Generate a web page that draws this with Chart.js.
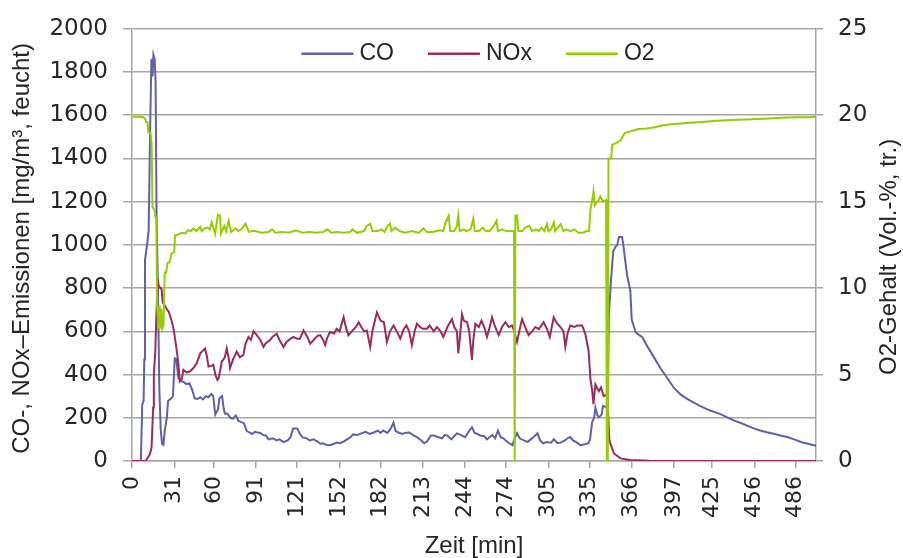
<!DOCTYPE html>
<html>
<head>
<meta charset="utf-8">
<script src="https://cdn.jsdelivr.net/npm/chart.js@4.4.1/dist/chart.umd.min.js"></script>
<style>
  html, body { margin: 0; padding: 0; background: #ffffff; }
  #wrap { width: 903px; height: 558px; position: relative; }
</style>
</head>
<body>
<div id="wrap"><canvas id="c" width="903" height="558"></canvas></div>
<script>
// ---- data ----
const seriesNames = ['CO', 'NOx', 'O2'];
const xTickValues = [0, 31, 60, 91, 121, 152, 182, 213, 244, 274, 305, 335, 366, 397, 425, 456, 486];
const leftTickStep = 200;
const rightTickStep = 5;
const leftTitle = 'CO-, NOx–Emissionen [mg/m³, feucht)';
const rightTitle = 'O2-Gehalt (Vol.-%, tr.)';
const bottomTitle = 'Zeit [min]';

const coTime = [0, 6.5, 7.5, 8.5, 9, 9.5, 11, 12.2, 13.2, 14.2, 15, 15.7, 16.6, 17.3, 18, 19, 20, 21, 22, 23, 24, 25.5, 26.4, 28.8, 30, 31.3, 32.5, 34, 36, 38, 40, 42, 44, 46, 48, 50, 52, 54, 56, 58, 59.5, 61, 63, 64, 66, 67, 68, 70, 72, 74, 76, 78, 80, 82, 84, 86, 88, 90, 92, 94, 96, 98, 100, 103, 106, 108, 111, 114, 116, 118, 121, 123, 125, 128, 130, 133, 136, 138, 140, 142, 145, 148, 150, 152, 155, 157.5, 160, 162, 165, 168, 171, 174, 177, 180, 182, 184, 187, 189.5, 191.5, 193, 195, 198, 200, 203, 206, 209, 212, 214, 216, 219, 221, 224, 227, 229, 231, 234, 236, 238, 241, 244, 247, 249, 251, 253, 255, 258, 260, 262, 264, 266, 268, 270, 272, 275, 277, 278.6, 280, 282, 284, 287, 289.6, 292, 294, 297, 299, 301, 304, 307, 309, 311.6, 314, 317, 319, 321, 323, 326, 328.4, 330, 332, 334.3, 335.5, 337, 338.5, 339.4, 341, 342, 344, 345, 347, 348.5, 349.3, 351, 352.5, 354, 355.5, 356.6, 359, 360, 362.6, 365, 366, 368.8, 371, 373.7, 377, 382, 387, 392, 397, 401.8, 406, 411.5, 416, 421, 426, 431, 436, 441, 446, 450.5, 455, 460, 465, 470, 475, 480, 485, 490, 495, 499.5, 501];
const coValues = [0, 0, 260, 280, 470, 930, 1000, 1066, 1500, 1860, 1780, 1880, 1860, 1750, 1130, 800, 337, 150, 80, 75, 141, 200, 278, 290, 300, 475, 470, 384, 370, 365, 355, 360, 330, 290, 287, 295, 285, 300, 295, 310, 300, 215, 240, 290, 300, 250, 220, 219, 200, 196, 210, 185, 180, 175, 140, 132, 125, 135, 132, 130, 120, 118, 100, 105, 95, 100, 87, 95, 109, 150, 150, 125, 109, 105, 95, 100, 90, 80, 82, 75, 73, 80, 85, 82, 90, 100, 110, 123, 120, 128, 135, 125, 132, 140, 130, 141, 130, 150, 178, 140, 132, 125, 130, 132, 120, 109, 95, 82, 90, 118, 118, 111, 105, 120, 118, 100, 115, 128, 120, 110, 140, 156, 130, 125, 118, 115, 100, 111, 120, 105, 141, 110, 105, 88, 80, 73, 100, 128, 105, 95, 88, 100, 110, 128, 95, 82, 88, 85, 100, 82, 85, 95, 105, 111, 95, 85, 73, 75, 78, 82, 100, 179, 200, 247, 210, 202, 215, 255, 250, 255, 680, 850, 970, 990, 1000, 1037, 1037, 992, 862, 788, 657, 597, 585, 574, 536, 483, 430, 384, 338, 308, 290, 270, 255, 240, 228, 217, 202, 187, 176, 164, 152, 141, 133, 126, 118, 111, 100, 88, 80, 73, 70];

const noxTime = [0, 10, 11, 13, 14.3, 15.5, 16, 17, 18, 18.9, 19.5, 21.7, 22.5, 24, 25.4, 27, 29, 30.5, 31.5, 33, 34, 35, 36.5, 37.6, 40, 42.5, 45, 47.4, 50, 53.5, 55, 56, 58, 59.6, 61, 62.5, 63.5, 65.8, 68, 69.4, 71, 71.8, 74, 76.7, 79, 81.6, 83, 85.3, 87, 89, 91.4, 94, 96.3, 98, 101, 103, 106, 108, 111, 113, 116, 118, 121, 123, 125.6, 128, 130.5, 133, 136, 138, 140, 141.5, 143, 145, 148, 150, 152, 155, 157, 158.5, 161, 164, 166, 168, 170, 172, 174.5, 176, 179.4, 182, 184.5, 186.7, 189, 191.6, 194, 196.5, 199, 201, 203, 205, 207, 208.7, 211, 213, 216, 218, 221, 223.4, 226, 228, 231, 234.4, 236, 238, 239, 240, 241.7, 243, 245.4, 247, 249, 250, 251.5, 254, 256, 258, 260, 262, 263.7, 266, 268.6, 271, 273.5, 276, 278.4, 280, 282, 284, 285.7, 288, 290.5, 293, 295.4, 298, 301.5, 304, 306, 308.9, 311, 313.8, 316, 317.4, 319, 321, 324, 326, 329.7, 332, 334.5, 335.8, 337, 338, 339.4, 341.9, 343.5, 345.5, 347, 348.2, 349.6, 350.4, 353, 357.8, 365, 376, 380, 501];
const noxValues = [0, 0, 10, 30, 60, 247, 400, 500, 700, 840, 811, 794, 733, 720, 703, 690, 650, 610, 566, 500, 446, 369, 380, 422, 410, 415, 430, 452, 498, 521, 480, 437, 440, 445, 400, 375, 384, 460, 480, 521, 470, 430, 470, 506, 480, 491, 540, 574, 560, 600, 582, 560, 528, 545, 559, 575, 589, 560, 528, 550, 565, 574, 566, 566, 604, 580, 543, 560, 580, 582, 560, 536, 570, 597, 590, 612, 600, 665, 610, 582, 600, 620, 642, 620, 600, 604, 528, 600, 688, 650, 642, 551, 600, 627, 600, 566, 610, 627, 600, 536, 600, 635, 620, 612, 612, 627, 600, 620, 600, 574, 620, 657, 620, 600, 498, 560, 680, 650, 642, 600, 468, 560, 635, 620, 650, 620, 574, 620, 665, 620, 582, 620, 642, 620, 627, 600, 551, 610, 657, 620, 582, 600, 620, 610, 642, 610, 574, 665, 640, 620, 600, 528, 590, 627, 620, 627, 627, 589, 506, 377, 330, 263, 354, 323, 340, 300, 305, 300, 100, 80, 35, 12, 5, 2, 0, 0];

const o2Time = [0, 8, 9.5, 10.5, 11.3, 12, 13.5, 14.4, 15, 16.6, 17.2, 17.8, 18.4, 19, 19.5, 20.2, 20.8, 21.5, 22.2, 23, 24, 25, 26, 27.5, 29, 31, 31.5, 32.7, 35, 37, 39, 41, 43, 45, 47, 49, 50, 51, 53, 55, 57, 58.4, 59.5, 60.9, 62.9, 64.5, 65.2, 67.6, 69, 70.8, 72.6, 75.9, 78, 80, 83, 85.7, 88, 90.5, 95, 100, 102.7, 105, 110, 115, 120, 125, 130, 135, 140, 143, 146, 150, 155, 160, 161.4, 165, 170, 172, 174.5, 176, 180, 183, 185, 187, 189, 190, 192.8, 196, 200, 205, 210, 213.5, 216, 220, 225.7, 228, 230, 230.7, 232, 233, 236, 238, 239, 240, 243, 245, 248, 250, 251, 254, 257, 259, 262, 265, 267, 268, 271, 274, 277, 279.8, 280.3, 280.8, 282, 283, 286, 288, 291, 293, 296, 298, 300, 302, 304, 305, 307, 309, 310, 312, 314, 316, 318, 321, 324, 327, 330, 333, 334.8, 335.7, 337, 338, 339, 340.5, 341.6, 343, 345, 347.2, 347.8, 348.5, 349, 351, 351.7, 355, 358, 360.7, 364, 371, 377, 383, 389, 395, 401.8, 408, 414, 420, 426, 432, 438.5, 444, 450.5, 457, 463, 469, 475, 481, 487, 493, 499.5, 501];
const o2Values = [19.93, 19.9, 19.8, 19.6, 19.6, 19.0, 19.0, 18.3, 14.7, 14.5, 14.1, 14.1, 9.0, 8.2, 7.65, 9.0, 7.65, 8.8, 7.65, 7.8, 10.9, 10.9, 11.45, 11.5, 12.0, 12.1, 13.06, 13.06, 13.15, 13.2, 13.15, 13.35, 13.3, 13.45, 13.3, 13.45, 13.55, 13.3, 13.45, 13.5, 13.4, 13.8, 13.5, 13.15, 14.24, 14.2, 13.15, 13.6, 13.3, 13.9, 13.25, 13.45, 13.3, 13.4, 13.72, 13.25, 13.3, 13.3, 13.2, 13.25, 13.4, 13.2, 13.25, 13.2, 13.35, 13.2, 13.25, 13.2, 13.25, 13.4, 13.2, 13.25, 13.2, 13.25, 13.4, 13.2, 13.3, 13.6, 13.72, 13.3, 13.3, 13.4, 13.25, 13.6, 13.72, 13.3, 13.5, 13.3, 13.2, 13.3, 13.2, 13.45, 13.25, 13.25, 13.35, 13.3, 13.9, 14.0, 14.2, 13.3, 13.3, 13.6, 14.2, 13.3, 13.4, 13.3, 13.4, 14.0, 13.3, 13.3, 13.5, 13.3, 13.3, 13.6, 13.9, 13.3, 13.4, 13.3, 13.3, 13.3, 0, 14.2, 14.2, 13.3, 13.3, 13.5, 13.6, 13.3, 13.4, 13.3, 13.5, 13.3, 13.7, 13.3, 13.4, 13.8, 13.3, 13.5, 13.7, 13.3, 13.4, 13.3, 13.4, 13.2, 13.2, 13.3, 13.3, 14.5, 15.05, 15.6, 14.8, 15.0, 15.05, 15.3, 15.0, 15.1, 0, 0, 17.5, 17.5, 18.3, 18.4, 18.56, 18.95, 19.05, 19.2, 19.23, 19.3, 19.42, 19.48, 19.52, 19.56, 19.6, 19.63, 19.66, 19.69, 19.72, 19.74, 19.76, 19.78, 19.8, 19.83, 19.86, 19.87, 19.88, 19.89, 19.9, 19.9];

const toPoints = (ts, vs) => ts.map((t, i) => ({ x: t, y: vs[i] }));

const FONT_TEXT = '"Liberation Sans", Arial, sans-serif';
const FONT_TICK = '"DejaVu Sans", "Liberation Sans", sans-serif';
const GRID = '#a6a6a6';
const INK = '#262626';

// legend drawn inside the plot area, at the top (as in the reference)
const inlineLegend = {
  id: 'inlineLegend',
  afterDraw(chart) {
    const { ctx, chartArea } = chart;
    ctx.save();
    ctx.font = '23px ' + FONT_TEXT;
    ctx.textBaseline = 'middle';
    ctx.textAlign = 'left';
    const lineLen = 52, gapLT = 6, gapItem = 34;
    const items = chart.data.datasets.map(d => ({ label: d.label, color: d.borderColor, w: ctx.measureText(d.label).width }));
    const total = items.reduce((s, it) => s + lineLen + gapLT + it.w, 0) + gapItem * (items.length - 1);
    let x = (chartArea.left + chartArea.right) / 2 + 4 - total / 2;
    const y = chartArea.top + 25;
    items.forEach(it => {
      ctx.strokeStyle = it.color;
      ctx.lineWidth = 2.5;
      ctx.beginPath();
      ctx.moveTo(x, y);
      ctx.lineTo(x + lineLen, y);
      ctx.stroke();
      x += lineLen + gapLT;
      ctx.fillStyle = INK;
      ctx.fillText(it.label, x, y);
      x += it.w + gapItem;
    });
    ctx.restore();
  }
};

// vertical axis titles, both reading bottom-to-top as in the reference
const sideTitles = {
  id: 'sideTitles',
  afterDraw(chart) {
    const { ctx, chartArea } = chart;
    const midY = (chartArea.top + chartArea.bottom) / 2;
    ctx.save();
    ctx.font = '24px ' + FONT_TEXT;
    ctx.fillStyle = INK;
    ctx.textAlign = 'center';
    ctx.textBaseline = 'middle';
    ctx.save();
    ctx.translate(22, midY + 3.5);
    ctx.rotate(-Math.PI / 2);
    ctx.fillText(leftTitle, 0, 0);
    ctx.restore();
    ctx.save();
    ctx.translate(chart.width - 13.5, midY + 12);
    ctx.rotate(-Math.PI / 2);
    ctx.fillText(rightTitle, 0, 0);
    ctx.restore();
    ctx.restore();
  }
};

new Chart(document.getElementById('c'), {
  type: 'line',
  data: {
    datasets: [
      { label: seriesNames[0], data: toPoints(coTime, coValues), borderColor: '#5f60a8', yAxisID: 'y', order: 3 },
      { label: seriesNames[1], data: toPoints(noxTime, noxValues), borderColor: '#9b2a5e', yAxisID: 'y', order: 2 },
      { label: seriesNames[2], data: toPoints(o2Time, o2Values), borderColor: '#97cc00', yAxisID: 'y2', order: 1 }
    ]
  },
  options: {
    responsive: false,
    animation: false,
    devicePixelRatio: 1,
    elements: {
      point: { radius: 0, hoverRadius: 0 },
      line: { borderWidth: 2, tension: 0, fill: false }
    },
    layout: { padding: { top: 22, left: 0, right: 0, bottom: 0 } },
    plugins: {
      legend: { display: false },
      tooltip: { enabled: false }
    },
    scales: {
      x: {
        type: 'linear',
        position: 'bottom',
        min: 0,
        max: 501,
        afterBuildTicks(scale) { scale.ticks = xTickValues.map(v => ({ value: v })); },
        afterFit(scale) { scale.height = 97; },
        ticks: {
          autoSkip: false,
          minRotation: 90,
          maxRotation: 90,
          padding: 8,
          color: INK,
          font: { family: FONT_TICK, size: 22 },
          callback: v => String(v)
        },
        grid: { drawOnChartArea: false, drawTicks: true, tickLength: 7, color: GRID, lineWidth: 1.5 },
        border: { display: true, color: GRID, width: 1.5 },
        title: { display: true, text: bottomTitle, color: INK, font: { family: FONT_TEXT, size: 24 }, padding: { top: 0, bottom: -3 } }
      },
      y: {
        type: 'linear',
        position: 'left',
        min: 0,
        max: 2000,
        afterFit(scale) { scale.width = 132; },
        ticks: {
          stepSize: leftTickStep,
          padding: 15,
          color: INK,
          font: { family: FONT_TICK, size: 23 },
          callback: v => String(v)
        },
        grid: { drawOnChartArea: true, drawTicks: true, tickLength: 9, color: GRID, lineWidth: 1.5 },
        border: { display: true, color: GRID, width: 1.5 }
      },
      y2: {
        type: 'linear',
        position: 'right',
        min: 0,
        max: 25,
        afterFit(scale) { scale.width = 87; },
        ticks: {
          stepSize: rightTickStep,
          padding: 15,
          color: INK,
          font: { family: FONT_TICK, size: 23 },
          callback: v => String(v)
        },
        grid: { drawOnChartArea: false, drawTicks: true, tickLength: 7, color: GRID, lineWidth: 1.5 },
        border: { display: true, color: GRID, width: 1.5 }
      }
    }
  },
  plugins: [inlineLegend, sideTitles]
});
</script>
</body>
</html>
